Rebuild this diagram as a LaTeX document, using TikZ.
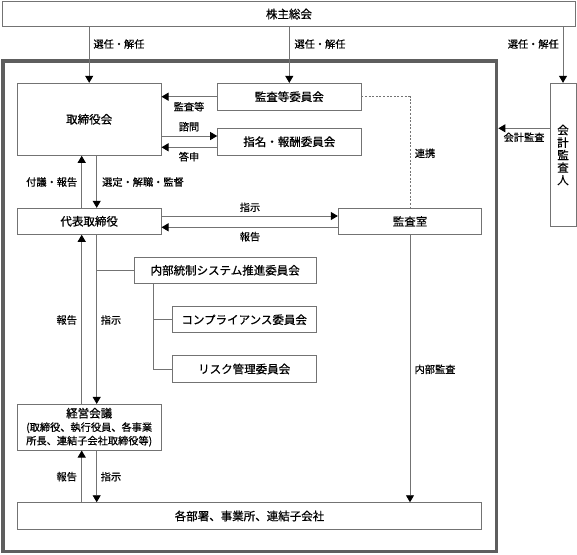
\documentclass[tikz,border=0pt]{standalone}
\usepackage{fontspec}
\setmainfont{Noto Sans CJK JP}[FakeBold=0.6]
\usetikzlibrary{arrows.meta}

\begin{document}
\begin{tikzpicture}[yscale=-1, x=1pt, y=1pt,
    box/.style={draw=black!55, line width=0.9pt, inner sep=0pt, font=\fontsize{11.5}{13}\selectfont},
    lbl/.style={inner sep=0pt, font=\fontsize{10.2}{12}\selectfont},
    link/.style={draw=black!55, line width=0.9pt},
    arr/.style={link, -{Triangle[length=7pt, width=8pt, color=black]}}]
    \useasboundingbox (0,0) rectangle (577,554);

    % Define the positions of the boxes
    \coordinate (meetingPos) at (289, 14);
    \coordinate (groupPos) at (249.85, 306.25);
    \coordinate (boardPos) at (89.2, 119.3);
    \coordinate (auditCommPos) at (289.3, 96.7);
    \coordinate (nomCommPos) at (289.3, 141.7);
    \coordinate (auditorPos) at (563, 155);
    \coordinate (ceoPos) at (89.2, 221.3);
    \coordinate (auditRoomPos) at (410, 221.3);
    \coordinate (internalPos) at (225.2, 270.3);
    \coordinate (compliancePos) at (244.2, 319.7);
    \coordinate (riskPos) at (244.2, 369);
    \coordinate (mgmtPos) at (89.2, 427.2);
    \coordinate (divisionsPos) at (249.5, 516);

    % Define the positions of the line levels
    \coordinate (askY) at (0, 136);
    \coordinate (answerY) at (0, 147.3);
    \coordinate (auditY) at (0, 128.3);
    \coordinate (orderY) at (0, 216);
    \coordinate (reportY) at (0, 227.3);
    \coordinate (upX) at (81.7, 0);
    \coordinate (downX) at (96.7, 0);
    \coordinate (branchX) at (153.3, 0);

    % Draw the frame and the boxes
    \node[draw=black!63, line width=3.3pt, minimum width=493.7pt, minimum height=490.5pt] (group) at (groupPos) {};

    \node[box, minimum width=573.5pt, minimum height=25pt] (meeting) at (meetingPos) {株主総会};
    \node[box, minimum width=143.7pt, minimum height=72pt] (board) at (boardPos) {取締役会};
    \node[box, minimum width=143.3pt, minimum height=26.7pt] (auditComm) at (auditCommPos) {監査等委員会};
    \node[box, minimum width=143.3pt, minimum height=26.7pt] (nomComm) at (nomCommPos) {指名・報酬委員会};
    \node[box, minimum width=26pt, minimum height=143.4pt, align=center, font=\fontsize{11.5}{12.5}\selectfont] (auditor) at (auditorPos) {会\\計\\監\\査\\人};
    \node[box, minimum width=143.7pt, minimum height=26pt] (ceo) at (ceoPos) {代表取締役};
    \node[box, minimum width=143.4pt, minimum height=26pt] (auditRoom) at (auditRoomPos) {監査室};
    \node[box, minimum width=181.7pt, minimum height=26pt] (internal) at (internalPos) {内部統制システム推進委員会};
    \node[box, minimum width=143.7pt, minimum height=26pt] (compliance) at (compliancePos) {コンプライアンス委員会};
    \node[box, minimum width=143.7pt, minimum height=26.6pt] (risk) at (riskPos) {リスク管理委員会};
    \node[box, minimum width=143.7pt, minimum height=45.7pt, align=center, font=\fontsize{10.2}{13.5}\selectfont] (mgmt) at (mgmtPos) {{\fontsize{11.5}{13}\selectfont 経営会議}\\(取締役、執行役員、各事業\\所長、連結子会社取締役等)};
    \node[box, minimum width=464.4pt, minimum height=26.6pt] (divisions) at (divisionsPos) {各部署、事業所、連結子会社};

    % Draw the labels
    \node[lbl] (electA) at (119, 44) {選任・解任};
    \node[lbl] (electB) at (320, 44) {選任・解任};
    \node[lbl] (electC) at (533.3, 44) {選任・解任};
    \node[lbl] (auditLbl) at (189, 106.7) {監査等};
    \node[lbl] (askLbl) at (189, 126.7) {諮問};
    \node[lbl] (answerLbl) at (189, 156.7) {答申};
    \node[lbl] (accountLbl) at (524, 137.3) {会計監査};
    \node[lbl] (liaisonLbl) at (425, 153.3) {連携};
    \node[lbl] (proposeLbl) at (51.7, 182) {付議・報告};
    \node[lbl] (superviseLbl) at (143, 182) {選定・解職・監督};
    \node[lbl] (orderLbl) at (250, 207.3) {指示};
    \node[lbl] (reportLbl) at (250, 236.7) {報告};
    \node[lbl] (ceoReportLbl) at (66.7, 320) {報告};
    \node[lbl] (ceoOrderLbl) at (111, 320) {指示};
    \node[lbl] (innerAuditLbl) at (435, 369.3) {内部監査};
    \node[lbl] (mgmtReportLbl) at (66.7, 476.7) {報告};
    \node[lbl] (mgmtOrderLbl) at (111, 476.7) {指示};

    % Draw the lines
    \draw[arr] (meeting.south -| board) -- (board.north);
    \draw[arr] (meeting.south -| auditComm) -- (auditComm.north);
    \draw[arr] (meeting.south -| auditor) -- (auditor.north);

    \draw[arr] (auditComm.west) -- (auditComm.west -| board.east);
    \draw[arr] (board.east |- askY) -- (nomComm.west |- askY);
    \draw[arr] (nomComm.west |- answerY) -- (board.east |- answerY);
    \draw[arr] (auditor.west |- auditY) -- (group.east |- auditY);
    \draw[link, dash pattern=on 2pt off 1.6pt] (auditComm.east) -| (auditRoom.north);

    \draw[arr] (ceo.north -| upX) -- (board.south -| upX);
    \draw[arr] (board.south -| downX) -- (ceo.north -| downX);
    \draw[arr] (ceo.east |- orderY) -- (auditRoom.west |- orderY);
    \draw[arr] (auditRoom.west |- reportY) -- (ceo.east |- reportY);

    \draw[arr] (mgmt.north -| upX) -- (ceo.south -| upX);
    \draw[arr] (ceo.south -| downX) -- (mgmt.north -| downX);
    \draw[link] (internal.west -| downX) -- (internal.west);
    \draw[link] (internal.south -| branchX) |- (risk.west);
    \draw[link] (compliance.west -| branchX) -- (compliance.west);

    \draw[arr] (auditRoom.south) -- (divisions.north -| auditRoom);
    \draw[arr] (divisions.north -| upX) -- (mgmt.south -| upX);
    \draw[arr] (mgmt.south -| downX) -- (divisions.north -| downX);

\end{tikzpicture}
\end{document}
